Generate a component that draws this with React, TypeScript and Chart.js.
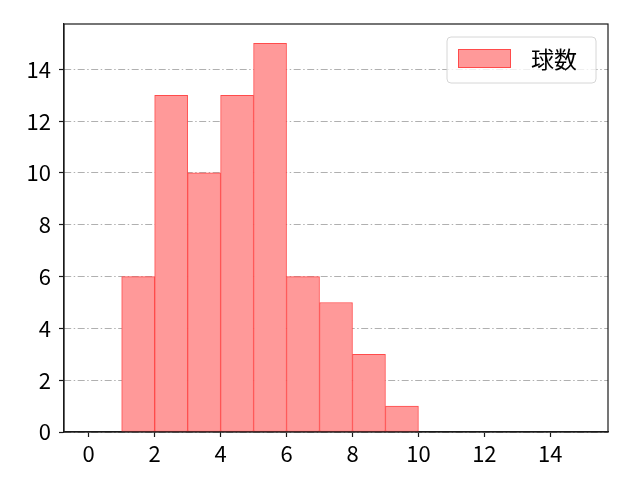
import React, { useRef, useEffect } from 'react';
import { Chart, registerables, Plugin } from 'chart.js';

Chart.register(...registerables);

// ヒストグラムのデータ（各ビンの左端と度数）
const binStarts = [1, 2, 3, 4, 5, 6, 7, 8, 9];
const counts = [6, 13, 10, 13, 15, 6, 5, 3, 1];
const seriesLabel = '球数';

// 目盛り
const xTicks = [0, 2, 4, 6, 8, 10, 12, 14];
const yTicks = [0, 2, 4, 6, 8, 10, 12, 14];

const FONT = "'Noto Sans CJK JP', 'Noto Sans', sans-serif";

// 枠線と凡例（matplotlib風）
const framePlugin: Plugin<'bar'> = {
  id: 'frame',
  afterDraw(chart) {
    const { ctx, chartArea } = chart;
    const { left, right, top, bottom } = chartArea;
    ctx.save();
    ctx.strokeStyle = '#1a1a1a';
    ctx.lineWidth = 1.2;
    ctx.setLineDash([]);
    ctx.strokeRect(left, top, right - left, bottom - top);

    // 凡例
    const bx = right - 161;
    const by = top + 13;
    const bw = 149;
    const bh = 46;
    const r = 4;
    ctx.beginPath();
    ctx.moveTo(bx + r, by);
    ctx.arcTo(bx + bw, by, bx + bw, by + bh, r);
    ctx.arcTo(bx + bw, by + bh, bx, by + bh, r);
    ctx.arcTo(bx, by + bh, bx, by, r);
    ctx.arcTo(bx, by, bx + bw, by, r);
    ctx.closePath();
    ctx.fillStyle = 'rgba(255,255,255,0.8)';
    ctx.fill();
    ctx.strokeStyle = '#d6d6d6';
    ctx.lineWidth = 1;
    ctx.stroke();

    const ds = chart.data.datasets[0];
    ctx.fillStyle = ds.backgroundColor as string;
    ctx.fillRect(bx + 11, by + 12, 53, 19);
    ctx.strokeStyle = ds.borderColor as string;
    ctx.strokeRect(bx + 11.5, by + 12.5, 52, 18);

    ctx.fillStyle = '#000';
    ctx.font = `23px ${FONT}`;
    ctx.textBaseline = 'middle';
    ctx.textAlign = 'left';
    ctx.fillText(ds.label || '', bx + 84, by + 22);
    ctx.restore();
  },
};

const App: React.FC = () => {
  const chartRef = useRef<HTMLCanvasElement>(null);
  const chartInstance = useRef<Chart<'bar'> | null>(null);

  useEffect(() => {
    if (!chartRef.current) return;
    document.body.style.margin = '0';

    if (chartInstance.current) {
      chartInstance.current.destroy();
    }

    const ctx = chartRef.current.getContext('2d');
    if (!ctx) return;

    const points = binStarts.map((start, i) => ({ x: start + 0.5, y: counts[i] }));

    chartInstance.current = new Chart(ctx, {
      type: 'bar',
      data: {
        datasets: [
          {
            label: seriesLabel,
            data: points as any,
            backgroundColor: 'rgba(255, 153, 153, 1)',
            borderColor: 'rgba(255, 75, 75, 1)',
            borderWidth: 1,
            borderSkipped: false,
            barPercentage: 1,
            categoryPercentage: 1,
          },
        ],
      },
      options: {
        responsive: false,
        animation: false,
        devicePixelRatio: 1,
        layout: {
          padding: { top: 24, right: 32, left: 0, bottom: 0 },
        },
        plugins: {
          legend: { display: false },
          tooltip: { enabled: false },
        },
        scales: {
          x: {
            type: 'linear',
            min: -0.75,
            max: 15.75,
            offset: false,
            afterBuildTicks: (scale) => {
              scale.ticks = xTicks.map((v) => ({ value: v }));
            },
            afterFit: (scale) => {
              scale.height = 48;
            },
            grid: {
              offset: false,
              drawOnChartArea: false,
              drawTicks: true,
              tickLength: 5,
              tickColor: '#1a1a1a',
              tickWidth: 1.2,
            },
            border: { display: true, color: '#1a1a1a', width: 1.2 },
            ticks: {
              color: '#000',
              padding: 3,
              maxRotation: 0,
              autoSkip: false,
              font: { family: FONT, size: 22 },
            },
          },
          y: {
            type: 'linear',
            min: 0,
            max: 15.75,
            z: 1,
            afterBuildTicks: (scale) => {
              scale.ticks = yTicks.map((v) => ({ value: v }));
            },
            afterFit: (scale) => {
              scale.width = 64;
            },
            grid: {
              drawOnChartArea: true,
              drawTicks: true,
              tickLength: 5,
              color: '#b0b0b0',
              lineWidth: 1,
              tickColor: '#1a1a1a',
              tickWidth: 1.2,
              tickBorderDash: [],
            },
            border: { display: true, color: '#1a1a1a', width: 1.2, dash: [7, 2.5, 1.5, 2.5] },
            ticks: {
              color: '#000',
              padding: 8,
              autoSkip: false,
              font: { family: FONT, size: 22 },
            },
          },
        },
      },
      plugins: [framePlugin],
    });

    return () => {
      if (chartInstance.current) {
        chartInstance.current.destroy();
        chartInstance.current = null;
      }
    };
  }, []);

  return (
    <div style={{ position: 'relative', width: '640px', height: '480px' }}>
      <canvas ref={chartRef} width={640} height={480} />
    </div>
  );
};

export default App;
